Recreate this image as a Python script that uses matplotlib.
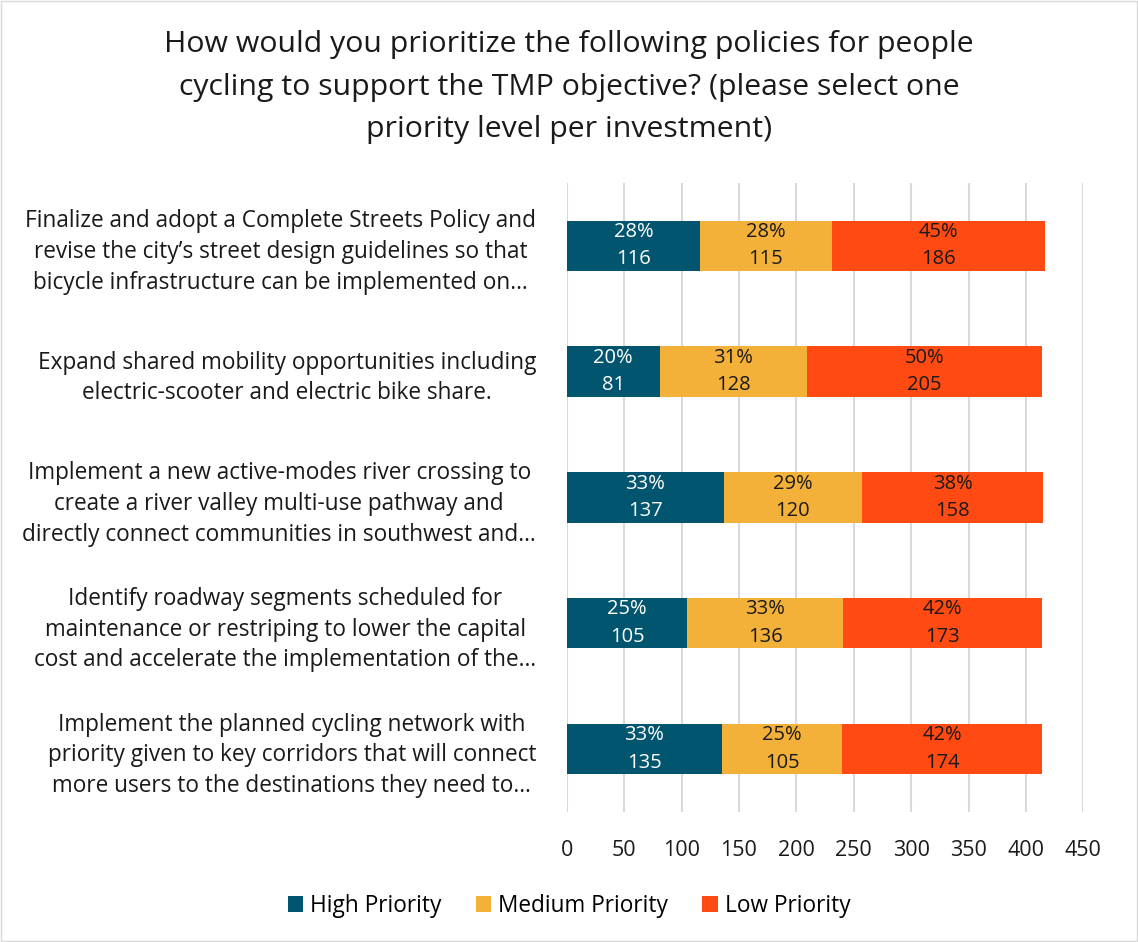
import matplotlib.pyplot as plt
import numpy as np

plt.rcParams['font.family'] = ['Open Sans', 'DejaVu Sans']

# data (top to bottom as in the chart)
policies = [
    "Finalize and adopt a Complete Streets Policy and\nrevise the city\u2019s street design guidelines so that\nbicycle infrastructure can be implemented on\u2026",
    "Expand shared mobility opportunities including\nelectric-scooter and electric bike share.",
    "Implement a new active-modes river crossing to\ncreate a river valley multi-use pathway and\ndirectly connect communities in southwest and\u2026",
    "Identify roadway segments scheduled for\nmaintenance or restriping to lower the capital\ncost and accelerate the implementation of the\u2026",
    "Implement the planned cycling network with\npriority given to key corridors that will connect\nmore users to the destinations they need to\u2026",
]
high = [116, 81, 137, 105, 135]
medium = [115, 128, 120, 136, 105]
low = [186, 205, 158, 173, 174]
high_pct = ["28%", "20%", "33%", "25%", "33%"]
medium_pct = ["28%", "31%", "29%", "33%", "25%"]
low_pct = ["45%", "50%", "38%", "42%", "42%"]

series = [
    ("High Priority", high, high_pct, "#02556E", "white"),
    ("Medium Priority", medium, medium_pct, "#F4B13A", "#1a1a1a"),
    ("Low Priority", low, low_pct, "#FF4A14", "#1a1a1a"),
]

fig = plt.figure(figsize=(11.38, 9.42), dpi=100)
ax = fig.add_axes([0.498, 0.138, 0.454, 0.668])

y = np.arange(len(policies))
left = np.zeros(len(policies))
for name, vals, pcts, color, tcolor in series:
    vals = np.array(vals)
    ax.barh(y, vals, left=left, height=0.4, color=color, label=name, zorder=3)
    for yi, l, v, p in zip(y, left, vals, pcts):
        ax.text(l + v / 2, yi, f"{p}\n{v}", ha='center', va='center',
                color=tcolor, fontsize=14.5, linespacing=1.5, zorder=4)
    left = left + vals

ax.set_xlim(0, 450)
ax.set_ylim(4.5, -0.5)
ax.set_xticks(np.arange(0, 451, 50))
ax.set_yticks(y)
ax.set_yticklabels(policies, fontsize=16.3, multialignment='center', linespacing=1.38)
ax.tick_params(axis='both', length=0, colors='#1a1a1a')
ax.tick_params(axis='x', labelsize=15.5, pad=20)
ax.tick_params(axis='y', pad=22)
ax.grid(axis='x', color='#D9D9D9', linewidth=1.5, zorder=0)
for s in ax.spines.values():
    s.set_visible(False)

fig.text(0.5, 0.968, "How would you prioritize the following policies for people\n"
         "cycling to support the TMP objective? (please select one\n"
         "priority level per investment)", ha='center', va='top',
         fontsize=21.8, color='#1a1a1a', linespacing=1.62)

fig.legend(loc='lower center', bbox_to_anchor=(0.5, 0.004), ncol=3, frameon=False,
           fontsize=16.3, handlelength=0.7, handleheight=0.7, handletextpad=0.3,
           columnspacing=1.5)

# light border around the figure
fig.patches.append(plt.Rectangle((0.001, 0.001), 0.998, 0.998, transform=fig.transFigure,
                                 fill=False, edgecolor='#D9D9D9', linewidth=1))

fig.savefig("out.png", dpi=100)
